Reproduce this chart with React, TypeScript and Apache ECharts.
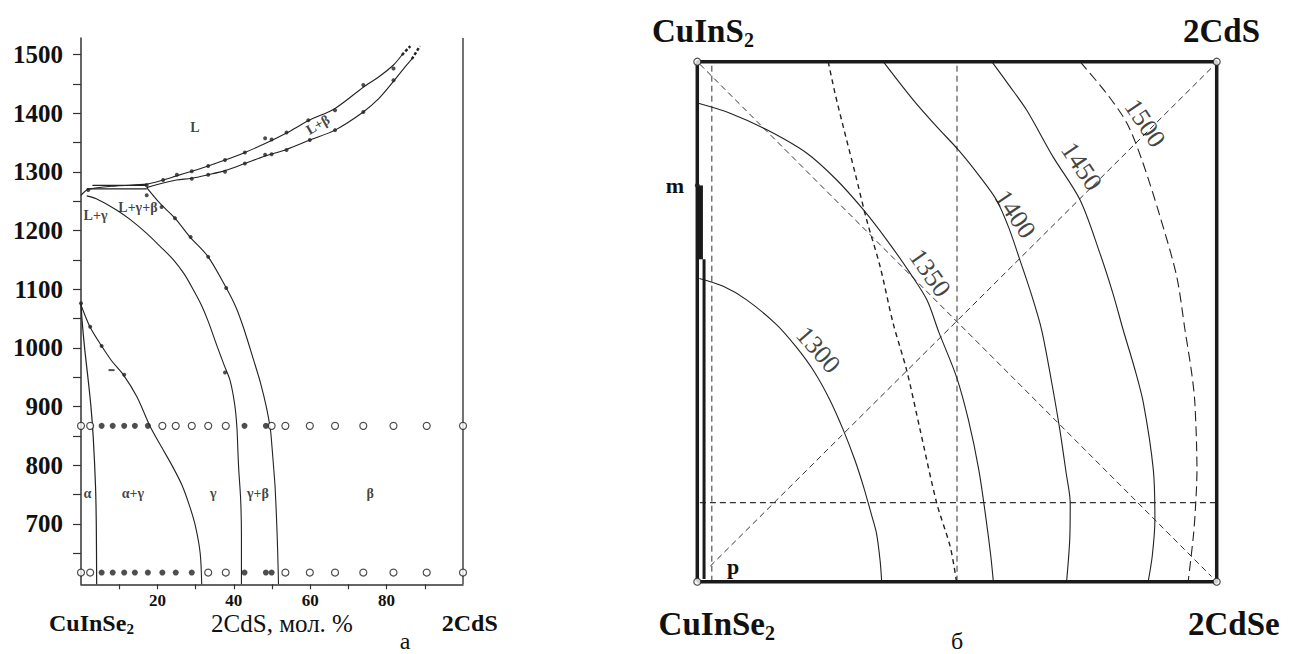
import { useEffect, useRef } from "react";
import * as echarts from "echarts";

const SERIF = '"Liberation Serif", "Times New Roman", serif';
type P = [number, number];

// ---------- Left panel: CuInSe2 – 2CdS section (x: mol.% 2CdS, y: T) ----------
const yTickValues = [650, 700, 750, 800, 850, 900, 950, 1000, 1050, 1100, 1150, 1200, 1250, 1300, 1350, 1400, 1450, 1500];
const yLabelValues = [700, 800, 900, 1000, 1100, 1200, 1300, 1400, 1500];
const xTickValues = [10, 20, 30, 40, 50, 60, 70, 80, 90];
const xLabelValues = [20, 40, 60, 80];

const liquidusUpper: P[] = [[0, 1260], [1.9, 1270], [9.3, 1276], [17.2, 1279], [21.5, 1286], [25, 1293], [29, 1301], [33.3, 1310], [37.7, 1320], [42.9, 1333], [48.2, 1348], [53.8, 1366], [59.5, 1387], [66.5, 1408], [73.9, 1444], [78, 1462], [81.8, 1482], [84, 1499]];
const liquidusUpperEnd: P[] = [[84, 1499], [86.2, 1514]];
const solidusBeta: P[] = [[17.2, 1273], [21.5, 1281], [25, 1286], [29, 1289], [33.3, 1295], [37.7, 1302], [42.9, 1314], [48.2, 1327], [53.8, 1338], [59.9, 1354], [66.5, 1371], [73.9, 1402], [78, 1425], [81.8, 1454], [85, 1480], [86.6, 1492]];
const solidusBetaEnd: P[] = [[86.6, 1492], [88.7, 1514]];
const threePhaseUpper: P[] = [[3, 1277], [17.2, 1277]];
const threePhaseLower: P[] = [[1.5, 1271], [17.2, 1271]];
const gammaInner: P[] = [[1.5, 1259], [4, 1254], [9.3, 1235], [13, 1218], [17.2, 1195], [20.7, 1173], [24.2, 1150], [27, 1126], [29.4, 1099], [31.5, 1073], [33.3, 1045], [35.5, 1005], [37.5, 970], [39, 945], [40.2, 905], [40.8, 866], [41.1, 820], [41.3, 792], [41.8, 741], [42, 680], [42, 597]];
const betaOuter: P[] = [[17.2, 1273], [20.7, 1246], [24.6, 1221], [28.5, 1189], [33.3, 1155], [38.1, 1101], [40.5, 1070], [42.5, 1035], [45.2, 979], [47, 940], [48.6, 897], [49.6, 860], [50, 831], [50.5, 790], [50.8, 764], [51.2, 707], [51.5, 650], [51.7, 597]];
const alphaSolvus: P[] = [[0, 1073], [2.4, 1035], [5.4, 1003], [8, 978], [11.1, 954], [14.6, 917], [18.1, 866], [21, 832], [24.2, 795], [26.5, 765], [28.5, 729], [30, 695], [31.2, 650], [31.6, 597]];
const alphaBoundary: P[] = [[0, 1076], [0.3, 1045], [1, 996], [1.8, 950], [2.6, 900], [3.2, 848], [3.8, 764], [4, 700], [4.1, 597]];

const dotsLiquidus: P[] = [[1.9, 1269], [17.2, 1277], [21.5, 1286], [25.1, 1295], [29, 1301], [33.3, 1310], [37.7, 1320], [42.9, 1333], [48.2, 1357], [49.9, 1355], [53.8, 1367], [59.5, 1388], [66.5, 1405], [73.9, 1448], [81.8, 1476]];
const dotsSolidus: P[] = [[29, 1288], [33.3, 1295], [37.7, 1300], [42.9, 1314], [48.2, 1329], [49.9, 1330], [53.8, 1337], [59.9, 1354], [66.5, 1371], [73.9, 1402], [81.8, 1456]];
const dotsSolvus: P[] = [[21.1, 1240], [24.6, 1221], [28.7, 1189], [33.3, 1155], [38, 1102], [37.7, 958], [0, 1076], [2.4, 1036], [5.4, 1003], [11.3, 954], [17.2, 1260]];
const dashMarks: P[] = [[8, 962]];

const rowTemps = [867, 617];
const row867Open = [0, 2.4, 21.3, 24.8, 29, 33.3, 37.9, 49.9, 53.5, 59.9, 66.5, 73.9, 81.8, 90.5, 100];
const row867Filled = [5.4, 8.3, 11.3, 14.1, 17.5, 42.8, 48.4];
const row617Open = [0, 2.4, 33.3, 37.9, 53.5, 59.9, 66.5, 73.9, 81.8, 90.5, 100];
const row617Filled = [5.4, 8.3, 11.3, 14.1, 17.5, 21.3, 24.8, 29, 42.8, 48.4, 49.9];

const phaseLabels: { name: string; value: P; rotate: number }[] = [
  { name: "L", value: [29.8, 1375], rotate: 0 },
  { name: "L+β", value: [62, 1380], rotate: 30 },
  { name: "L+γ+β", value: [14.9, 1239], rotate: 0 },
  { name: "L+γ", value: [3.8, 1226], rotate: 0 },
  { name: "α", value: [1.7, 752], rotate: 0 },
  { name: "α+γ", value: [13.6, 752], rotate: 0 },
  { name: "γ", value: [34.6, 752], rotate: 0 },
  { name: "γ+β", value: [46.3, 752], rotate: 0 },
  { name: "β", value: [75.7, 752], rotate: 0 },
];

// ---------- Right panel: liquidus projection of the reciprocal system ----------
const box: P[] = [[0, 0], [100, 0], [100, 100], [0, 100], [0, 0]];
const corners: P[] = [[0, 0], [100, 0], [100, 100], [0, 100]];
const iso1300: P[] = [[0.4, 58.3], [5, 56.8], [9.5, 54.2], [15.2, 49.5], [19, 45.2], [22.3, 40.7], [25.5, 35], [28.1, 29.2], [30.3, 23.5], [32, 18.3], [33.5, 13], [34.5, 9.3], [35.2, 4], [35.5, 0]];
const iso1350: P[] = [[0.2, 92], [6.3, 90.1], [13.4, 86.9], [21.1, 82.4], [26.8, 77.3], [32, 71.5], [36.5, 65.7], [41, 59.3], [44.2, 54.2], [46.5, 48], [49.9, 39.4], [52.2, 31.1], [54.2, 21.5], [55.6, 12], [56.5, 5], [57, 0]];
const iso1400: P[] = [[35.8, 100], [41.6, 92.6], [46, 87.6], [50.3, 83], [54.4, 77.9], [57.6, 73.4], [60, 68], [62.1, 61.9], [64.4, 55], [66.3, 48.4], [68.2, 38.5], [69.8, 29.2], [71, 21], [71.8, 15.1], [71.7, 8], [71.1, 0]];
const iso1450: P[] = [[56.7, 100], [60, 95.5], [63.4, 90.7], [68.5, 81.7], [73.7, 73.4], [77.5, 63.2], [80, 55.5], [82, 48.4], [84.2, 41], [85.9, 34.3], [87.8, 21.5], [88.1, 11.9], [87.6, 5], [86.8, 0]];
const iso1500: P[] = [[73.7, 100], [78.8, 93.9], [82.7, 88.2], [85.6, 81.1], [89.1, 70.2], [92.3, 58.7], [93.9, 48.4], [95.2, 40], [95.8, 34.3], [96.2, 21.5], [95.9, 14], [95.5, 8.7], [94.5, 0]];
const boundaryA: P[] = [[25.2, 100], [26.5, 94], [28.1, 87.5], [30.4, 78.5], [32.6, 69.6], [35.2, 60.6], [37.7, 49.7], [40.3, 40.7], [42.9, 29.2], [46.1, 15.1], [48.7, 6.7], [49.9, 0]];
const diagA: P[] = [[0.5, 99.5], [99, 1]];
const diagB: P[] = [[2.5, 3], [99, 98.8]];
const vMid: P[] = [[50, 0], [50, 100]];
const vLeft: P[] = [[2.8, 0], [2.8, 100]];
const hLow: P[] = [[0.5, 15.2], [100, 15.2]];
const mBarTop: P[] = [[0.7, 76.2], [0.7, 62]];
const mBarInner: P[] = [[1.3, 62], [1.3, 0.5]];
const mPoint: P[] = [[0, 76.2]];
const isoLabels: { name: string; value: P; rotate: number }[] = [
  { name: "1300", value: [23.3, 44.6], rotate: -49 },
  { name: "1350", value: [44.8, 59.4], rotate: -55 },
  { name: "1400", value: [61.2, 70.7], rotate: -56 },
  { name: "1450", value: [74, 79.9], rotate: -56 },
  { name: "1500", value: [86.2, 88.2], rotate: -56 },
];

const INK = "#222";

function line(data: P[], g: number, width: number, type: any = "solid", smooth: any = 0.3, color = INK, z = 3) {
  return {
    type: "line", xAxisIndex: g, yAxisIndex: g, data, symbol: "none", showSymbol: false,
    smooth, silent: true, z, clip: false,
    lineStyle: { color, width, type },
  };
}

function dots(data: P[], g: number, size: any, filled: boolean, symbol = "circle") {
  return {
    type: "scatter", xAxisIndex: g, yAxisIndex: g, data, symbol, symbolSize: size, silent: true, z: 5, clip: false,
    itemStyle: filled ? { color: INK } : { color: "#fff", borderColor: INK, borderWidth: 1.2 },
  };
}

function labels(items: { name: string; value: P; rotate: number }[], g: number, fontSize: number, fontWeight: string) {
  return {
    type: "scatter", xAxisIndex: g, yAxisIndex: g, symbolSize: 1, silent: true, z: 6, clip: false,
    itemStyle: { color: "rgba(0,0,0,0)" },
    data: items.map((d) => ({ name: d.name, value: d.value, label: { rotate: d.rotate } })),
    label: { show: true, position: "inside", formatter: "{b}", fontFamily: SERIF, fontSize, fontWeight, color: "#111" },
  };
}

function txt(text: string, x: number, y: number, fontSize: number, fontWeight = "bold", align = "left") {
  return { type: "text", x, y, silent: true, style: { text, fontSize, fontWeight, fontFamily: SERIF, fill: "#111", align, verticalAlign: "middle" } };
}

export default function App() {
  const ref = useRef<HTMLDivElement>(null);
  useEffect(() => {
    document.body.style.margin = "0";
    const chart = echarts.init(ref.current!, null, { renderer: "svg" });
    const option: any = {
      animation: false,
      backgroundColor: "#fff",
      grid: [
        { left: 81, top: 38, width: 382, height: 546.3 },
        { left: 697.3, top: 61.7, width: 519.4, height: 520 },
      ],
      xAxis: [
        {
          gridIndex: 0, type: "value", min: 0, max: 100,
          axisLine: { show: true, lineStyle: { color: "#333", width: 1.5 } },
          axisTick: { show: true, customValues: xTickValues, length: 5, inside: false, lineStyle: { color: "#333", width: 1.2 } },
          axisLabel: { show: true, customValues: xLabelValues, margin: 8, fontFamily: SERIF, fontSize: 17, fontWeight: "bold", color: "#111", formatter: (v: number) => String(v) },
          splitLine: { show: false },
        },
        { gridIndex: 1, type: "value", min: 0, max: 100, show: false, splitLine: { show: false } },
      ],
      yAxis: [
        {
          gridIndex: 0, type: "value", min: 597, max: 1528,
          axisLine: { show: true, lineStyle: { color: "#333", width: 1.5 } },
          axisTick: { show: true, customValues: yTickValues, length: 8, inside: false, lineStyle: { color: "#333", width: 1.2 } },
          axisLabel: { show: true, customValues: yLabelValues, margin: 18, fontFamily: SERIF, fontSize: 25, fontWeight: "bold", color: "#111", formatter: (v: number) => String(v) },
          splitLine: { show: false },
        },
        { gridIndex: 1, type: "value", min: 0, max: 100, show: false, splitLine: { show: false } },
      ],
      series: [
        // left panel
        line([[100, 597], [100, 1528]], 0, 1.5, "solid", false, "#444"),
        line(liquidusUpper, 0, 1.1),
        line(liquidusUpperEnd, 0, 2.5, [3, 2], false),
        line(solidusBeta, 0, 1.1),
        line(solidusBetaEnd, 0, 2.5, [3, 2], false),
        line(threePhaseUpper, 0, 1.2, "solid", false),
        line(threePhaseLower, 0, 1.2, "solid", false),
        line(gammaInner, 0, 1.1),
        line(betaOuter, 0, 1.1),
        line(alphaSolvus, 0, 1.1),
        line(alphaBoundary, 0, 1.2),
        dots(dotsLiquidus, 0, 4, true),
        dots(dotsSolidus, 0, 4, true),
        dots(dotsSolvus, 0, 4, true),
        dots(dashMarks, 0, [6, 2], true, "rect"),
        dots(row867Open.map((x) => [x, rowTemps[0]] as P), 0, 7, false),
        dots(row867Filled.map((x) => [x, rowTemps[0]] as P), 0, 6, true),
        dots(row617Open.map((x) => [x, rowTemps[1]] as P), 0, 7, false),
        dots(row617Filled.map((x) => [x, rowTemps[1]] as P), 0, 6, true),
        labels(phaseLabels, 0, 14, "bold"),
        // right panel
        line(diagA, 1, 1, [6, 4], false, "#333", 2),
        line(diagB, 1, 1, [6, 4], false, "#333", 2),
        line(vMid, 1, 1, [6, 4], false, "#333", 2),
        line(vLeft, 1, 1, [6, 4], false, "#333", 2),
        line(hLow, 1, 1.1, [6, 4], false, "#333", 2),
        line(boundaryA, 1, 1.4, [5, 4]),
        line(iso1300, 1, 1.1),
        line(iso1350, 1, 1.1),
        line(iso1400, 1, 1.1),
        line(iso1450, 1, 1.1),
        line(iso1500, 1, 1.1, [10, 5]),
        line(box, 1, 3.5, "solid", false, "#1a1a1a", 4),
        line(mBarTop, 1, 4, "solid", false, "#1a1a1a", 4),
        line(mBarInner, 1, 3, "solid", false, "#1a1a1a", 4),
        dots(mPoint, 1, 5, true),
        dots(corners, 1, 7, false),
        labels(isoLabels, 1, 26, "normal"),
      ],
      graphic: [
        txt("CuInSe", 49, 622.5, 24),
        txt("2", 126.5, 629, 15),
        txt("2CdS, мол. %", 282, 623, 25, "normal", "center"),
        txt("2CdS", 441.7, 623, 24),
        txt("а", 405, 641, 24, "normal", "center"),
        txt("CuInS", 652, 31, 33),
        txt("2", 744, 40, 20),
        txt("2CdS", 1183, 31, 33),
        txt("CuInSe", 658.6, 624, 33),
        txt("2", 765, 633, 20),
        txt("2CdSe", 1188, 624, 33),
        txt("б", 957, 641, 24, "normal", "center"),
        txt("m", 675, 185, 22, "bold", "center"),
        txt("p", 733, 566, 22, "bold", "center"),
      ],
    };
    chart.setOption(option);
    return () => chart.dispose();
  }, []);
  return <div ref={ref} style={{ position: "absolute", left: 0, top: 0, width: 1289, height: 654, background: "#fff" }} />;
}
